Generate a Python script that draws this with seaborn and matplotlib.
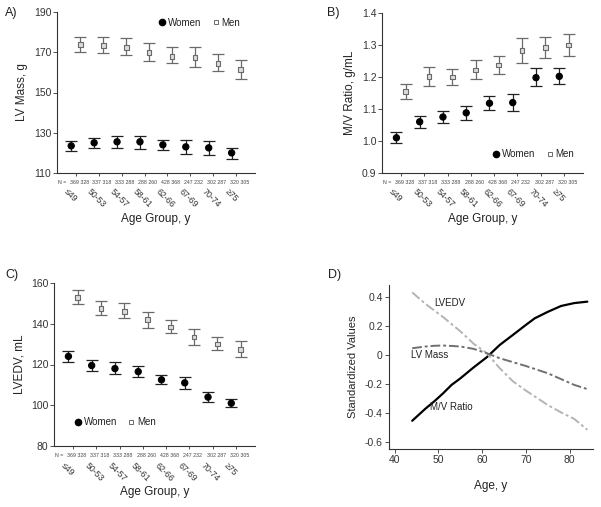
import matplotlib
matplotlib.use("Agg")
import matplotlib.pyplot as plt
import matplotlib.transforms as mtransforms
import numpy as np
import pandas as pd
import seaborn as sns

# age groups and group sizes (women, men)
age_groups = ["\u226449", "50-53", "54-57", "58-61", "62-66", "67-69", "70-74", "\u226575"]
n_labels = ["369 328", "337 318", "333 288", "288 260", "428 368", "247 232", "302 287", "320 305"]

# A) LV mass, g
women_mass = [123.5, 125.0, 125.5, 125.5, 124.0, 123.0, 122.5, 120.0]
women_mass_lo = [121.0, 122.5, 122.5, 122.0, 121.5, 119.5, 119.0, 117.0]
women_mass_hi = [126.0, 127.5, 128.5, 128.5, 126.5, 126.5, 126.0, 122.5]
men_mass = [174.0, 173.5, 172.5, 170.0, 168.0, 167.5, 164.5, 161.5]
men_mass_lo = [170.0, 169.5, 168.5, 165.5, 164.5, 162.5, 160.5, 156.5]
men_mass_hi = [177.5, 177.5, 177.0, 174.5, 172.5, 172.5, 169.0, 166.0]

# B) M/V ratio, g/mL
women_mv = [1.010, 1.060, 1.075, 1.088, 1.118, 1.120, 1.198, 1.202]
women_mv_lo = [0.995, 1.040, 1.057, 1.066, 1.098, 1.095, 1.172, 1.178]
women_mv_hi = [1.027, 1.078, 1.095, 1.110, 1.140, 1.148, 1.227, 1.228]
men_mv = [1.155, 1.202, 1.200, 1.222, 1.238, 1.282, 1.292, 1.300]
men_mv_lo = [1.132, 1.172, 1.175, 1.193, 1.210, 1.244, 1.260, 1.267]
men_mv_hi = [1.178, 1.232, 1.225, 1.252, 1.267, 1.322, 1.325, 1.335]

# C) LVEDV, mL
women_edv = [124.0, 119.5, 118.0, 116.5, 112.5, 111.0, 104.0, 101.0]
women_edv_lo = [121.0, 117.0, 115.5, 114.0, 110.5, 108.0, 101.5, 99.0]
women_edv_hi = [126.5, 122.0, 121.0, 119.5, 115.0, 114.0, 106.5, 103.0]
men_edv = [153.0, 147.5, 146.0, 142.0, 138.5, 133.5, 130.0, 127.5]
men_edv_lo = [149.5, 144.5, 143.0, 138.0, 135.5, 129.5, 127.0, 123.5]
men_edv_hi = [156.5, 151.0, 150.0, 146.0, 142.0, 137.5, 133.5, 131.5]

# D) standardized smoothed curves vs age
age_d = [44, 47, 49, 51, 53, 55, 58, 61, 64, 67, 70, 72, 75, 78, 81, 84]
mv_std = [-0.453, -0.370, -0.320, -0.265, -0.205, -0.160, -0.085, -0.015, 0.071, 0.140, 0.210, 0.255, 0.300, 0.340, 0.360, 0.370]
edv_std = [0.434, 0.355, 0.310, 0.265, 0.215, 0.165, 0.080, 0.015, -0.090, -0.180, -0.245, -0.285, -0.345, -0.395, -0.440, -0.515]
mass_std = [0.048, 0.060, 0.065, 0.067, 0.064, 0.060, 0.044, 0.014, -0.021, -0.048, -0.075, -0.095, -0.125, -0.165, -0.205, -0.234]

sns.set_style("ticks")
plt.rcParams["font.family"] = ["Liberation Sans", "DejaVu Sans"]
plt.rcParams["axes.edgecolor"] = "#333333"
plt.rcParams["xtick.color"] = "#333333"
plt.rcParams["ytick.color"] = "#333333"
plt.rcParams["text.color"] = "#222222"

fig = plt.figure(figsize=(6.01, 5.07), dpi=100)
W, H = 601.0, 507.0


def px_axes(left, top, right, bottom):
    return fig.add_axes([left / W, 1 - bottom / H, (right - left) / W, (bottom - top) / H])


def group_panel(ax, w, wlo, whi, m, mlo, mhi, ylim, yticks, ylabel, legend_loc, legend_anchor):
    x = np.arange(len(age_groups))
    df = pd.DataFrame({
        "x": np.concatenate([x - 0.2, x + 0.2]),
        "y": w + m,
        "sex": ["Women"] * len(w) + ["Men"] * len(m),
    })
    ax.errorbar(x - 0.2, w, yerr=[np.subtract(w, wlo), np.subtract(whi, w)], fmt="none",
                ecolor="#222222", elinewidth=0.9, capsize=4.5, capthick=0.9)
    ax.errorbar(x + 0.2, m, yerr=[np.subtract(m, mlo), np.subtract(mhi, m)], fmt="none",
                ecolor="#6a6a6a", elinewidth=0.9, capsize=4.5, capthick=0.9)
    sns.scatterplot(data=df, x="x", y="y", hue="sex", style="sex",
                    palette={"Women": "black", "Men": "#dcdcdc"},
                    markers={"Women": "o", "Men": "s"}, ax=ax, zorder=3,
                    size="sex", sizes={"Women": 20, "Men": 11}, legend=False)
    cols = ax.collections[-1]
    edge = ["black"] * len(w) + ["#6a6a6a"] * len(m)
    cols.set_edgecolor(edge)
    cols.set_linewidth(0.8)

    ax.set_xlim(-0.82, 7.82)
    ax.set_ylim(*ylim)
    ax.set_yticks(yticks)
    ax.set_xticks(x)
    ax.set_xticklabels([])
    ax.tick_params(axis="x", length=2, width=0.6)
    ax.tick_params(axis="y", length=3, width=0.6, labelsize=7.5, pad=1)
    ax.set_xlabel("")
    ax.set_ylabel(ylabel, fontsize=8.5, labelpad=4)
    sns.despine(ax=ax)
    for s in ax.spines.values():
        s.set_linewidth(0.8)

    trans = mtransforms.blended_transform_factory(ax.transData, ax.transAxes)
    ax.text(-0.78, -0.045, "N =", transform=trans, fontsize=3.8, ha="left", va="top", color="#444444")
    for i in x:
        ax.text(i + 0.15, -0.045, n_labels[i], transform=trans, fontsize=3.8, ha="center", va="top",
                color="#444444")
        ax.text(i - 0.3, -0.09, age_groups[i], transform=trans, fontsize=6.3, ha="left", va="top",
                rotation=-45, rotation_mode="anchor", color="#333333")
    ax.text(0.5, -0.285, "Age Group, y", transform=ax.transAxes, fontsize=8.5, ha="center", va="center")

    handles = [
        plt.Line2D([], [], ls="none", marker="o", ms=4.5, mfc="black", mec="black"),
        plt.Line2D([], [], ls="none", marker="s", ms=3.5, mfc="white", mec="#6a6a6a", mew=0.7),
    ]
    ax.legend(handles, ["Women", "Men"], loc=legend_loc, bbox_to_anchor=legend_anchor, ncol=2,
              frameon=False, fontsize=7, handletextpad=0.1, columnspacing=1.0, handlelength=1.0)


axA = px_axes(57, 12, 255, 173)
group_panel(axA, women_mass, women_mass_lo, women_mass_hi, men_mass, men_mass_lo, men_mass_hi,
            (110, 190), [110, 130, 150, 170, 190], "LV Mass, g", "upper right", (0.97, 1.02))

axB = px_axes(382, 13, 583, 173)
group_panel(axB, women_mv, women_mv_lo, women_mv_hi, men_mv, men_mv_lo, men_mv_hi,
            (0.9, 1.4), [0.9, 1.0, 1.1, 1.2, 1.3, 1.4], "M/V Ratio, g/mL", "lower right", (1.0, 0.03))
axB.set_yticklabels(["0.9", "1.0", "1.1", "1.2", "1.3", "1.4"])

axC = px_axes(54, 283, 255, 446)
group_panel(axC, women_edv, women_edv_lo, women_edv_hi, men_edv, men_edv_lo, men_edv_hi,
            (80, 160), [80, 100, 120, 140, 160], "LVEDV, mL", "lower left", (0.05, 0.06))

# D) standardized curves
axD = px_axes(389, 285, 593, 449)
dd = pd.DataFrame({
    "age": age_d * 3,
    "value": mv_std + edv_std + mass_std,
    "measure": ["M/V Ratio"] * len(age_d) + ["LVEDV"] * len(age_d) + ["LV Mass"] * len(age_d),
})
sns.lineplot(data=dd, x="age", y="value", hue="measure", style="measure",
             palette={"M/V Ratio": "black", "LVEDV": "#b4b4b4", "LV Mass": "#707070"},
             dashes={"M/V Ratio": "", "LVEDV": (5, 1.5, 1.5, 1.5), "LV Mass": (5, 1.5, 1.5, 1.5)},
             size="measure", sizes={"M/V Ratio": 1.6, "LVEDV": 1.4, "LV Mass": 1.4},
             legend=False, ax=axD)
axD.set_xlim(38.7, 85.3)
axD.set_ylim(-0.648, 0.485)
axD.set_xticks([40, 50, 60, 70, 80])
axD.set_yticks([-0.6, -0.4, -0.2, 0, 0.2, 0.4])
axD.set_yticklabels(["-0.6", "-0.4", "-0.2", "0", "0.2", "0.4"])
axD.tick_params(axis="both", length=3, width=0.6, labelsize=7.5, pad=1.5)
axD.set_xlabel("")
axD.set_ylabel("Standardized Values", fontsize=8, labelpad=5)
axD.text(0.5, -0.19, "Age, y", transform=axD.transAxes, fontsize=8.5, ha="center", va="top")
sns.despine(ax=axD)
for s in axD.spines.values():
    s.set_linewidth(0.8)
axD.text(49.1, 0.363, "LVEDV", fontsize=7, va="center", ha="left")
axD.text(43.8, 0.0, "LV Mass", fontsize=7, va="center", ha="left")
axD.text(48.0, -0.36, "M/V Ratio", fontsize=7, va="center", ha="left")

# panel letters
for lbl, (px, py) in {"A)": (5, 13), "B)": (327, 13), "C)": (5, 275), "D)": (328, 275)}.items():
    fig.text(px / W, 1 - py / H, lbl, fontsize=9, ha="left", va="center")

fig.savefig("out.png", dpi=100)
